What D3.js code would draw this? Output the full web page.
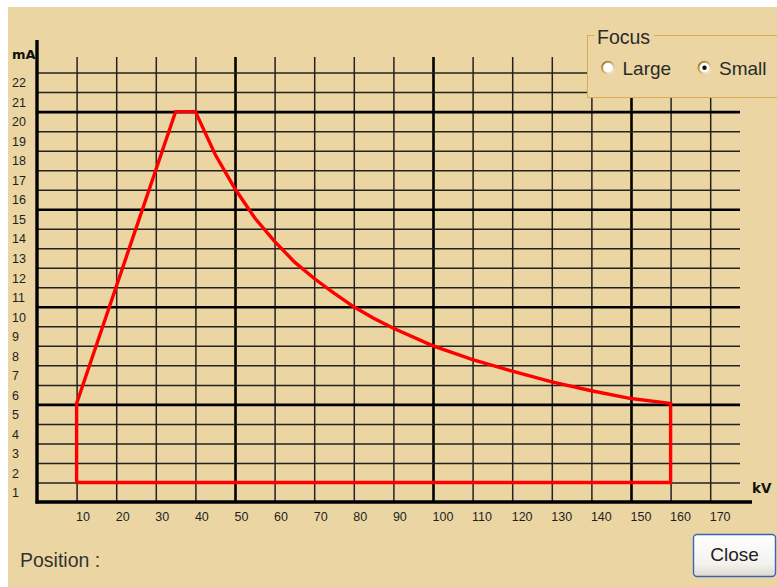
<!DOCTYPE html>
<html>
<head>
<meta charset="utf-8">
<script src="https://cdn.jsdelivr.net/npm/d3@7"></script>
<style>
  html, body { margin: 0; padding: 0; background: #ffffff; }
  svg { display: block; }
</style>
</head>
<body>
<div id="chart"></div>
<script>
// tick values of the grid
var kvTicks = [10, 20, 30, 40, 50, 60, 70, 80, 90, 100, 110, 120, 130, 140, 150, 160, 170];
var maTicks = [1, 2, 3, 4, 5, 6, 7, 8, 9, 10, 11, 12, 13, 14, 15, 16, 17, 18, 19, 20, 21, 22];
var kvMajor = [50, 100, 150];
var maMajor = [5, 10, 15, 20];

// limit curve (kV, mA)
var kvLimit = [10, 10, 35, 40, 45, 50, 55, 60, 65, 70, 75, 80, 85, 90, 100, 110, 120, 130, 140, 150, 160, 160, 10];
var maLimit = [1, 5.05, 20, 20, 17.8, 16.05, 14.55, 13.35, 12.3, 11.45, 10.7, 10, 9.42, 8.9, 8, 7.3, 6.7, 6.15, 5.7, 5.3, 5.05, 1, 1];

var W = 777, H = 587;
var bg = "#ebd6a3";
var uiFont = "'Liberation Sans', Arial, sans-serif";
var tickFont = "'Liberation Sans', Arial, sans-serif";

var svg = d3.select("#chart")
  .append("svg")
    .attr("width", W)
    .attr("height", H);

svg.append("rect").attr("width", W).attr("height", H).attr("fill", "#ffffff");
svg.append("rect").attr("x", 8).attr("y", 7).attr("width", W - 8).attr("height", H - 7).attr("fill", bg);

var x = d3.scaleLinear().domain([0, 170]).range([37, 710.2]);
var y = d3.scaleLinear().domain([0, 22]).range([502, 72.6]);

var gridRight = 740, gridTop = 57;

// vertical grid + kV labels
var xAxis = svg.append("g")
  .attr("transform", "translate(0," + y(0) + ")")
  .call(d3.axisBottom(x).tickValues(kvTicks).tickSize(-(y(0) - gridTop)).tickFormat(d3.format("d")));

xAxis.select(".domain").remove();
xAxis.selectAll(".tick line")
  .attr("stroke", function(d) { return kvMajor.indexOf(d) >= 0 ? "#000" : "#222"; })
  .attr("stroke-width", function(d) { return kvMajor.indexOf(d) >= 0 ? 2.6 : 1.5; });
xAxis.selectAll(".tick text")
  .attr("y", 19)
  .attr("dy", 0)
  .attr("x", -1)
  .attr("text-anchor", "start")
  .attr("fill", "#1e1e1e")
  .style("font-family", tickFont)
  .style("font-size", "12.5px");

// horizontal grid + mA labels
var yAxis = svg.append("g")
  .attr("transform", "translate(" + x(0) + ",0)")
  .call(d3.axisLeft(y).tickValues(maTicks).tickSize(-(gridRight - x(0))).tickFormat(d3.format("d")));

yAxis.select(".domain").remove();
yAxis.selectAll(".tick line")
  .attr("stroke", function(d) { return maMajor.indexOf(d) >= 0 ? "#000" : "#222"; })
  .attr("stroke-width", function(d) { return maMajor.indexOf(d) >= 0 ? 2.6 : 1.5; });
yAxis.selectAll(".tick text")
  .attr("x", 12 - x(0))
  .attr("y", function(d) { return y(d - 0.5) - y(d); })
  .attr("dy", "0.36em")
  .attr("text-anchor", "start")
  .attr("fill", "#1e1e1e")
  .style("font-family", tickFont)
  .style("font-size", "12.5px");

// main axes
svg.append("line")
  .attr("x1", x(0)).attr("x2", x(0))
  .attr("y1", 40).attr("y2", y(0) + 1.5)
  .attr("stroke", "#000").attr("stroke-width", 3.4);
svg.append("line")
  .attr("x1", x(0) - 1.5).attr("x2", 752)
  .attr("y1", y(0)).attr("y2", y(0))
  .attr("stroke", "#000").attr("stroke-width", 3.4);

svg.append("text")
  .attr("x", 12).attr("y", 59)
  .attr("fill", "#111")
  .style("font-family", "'DejaVu Sans', Verdana, sans-serif").style("font-size", "13px").style("font-weight", "bold")
  .text("mA");
svg.append("text")
  .attr("x", 752).attr("y", 493)
  .attr("fill", "#111")
  .style("font-family", "'DejaVu Sans', Verdana, sans-serif").style("font-size", "13.5px").style("font-weight", "bold")
  .text("kV");

// limit curve
var pts = kvLimit.map(function(k, i) { return [k, maLimit[i]]; });
var line = d3.line()
  .x(function(d) { return x(d[0]); })
  .y(function(d) { return y(d[1]); });

svg.append("path")
  .datum(pts)
  .attr("d", line)
  .attr("fill", "none")
  .attr("stroke", "#ff0000")
  .attr("stroke-width", 3.4)
  .attr("stroke-linejoin", "miter");

// Focus group box
var box = svg.append("g");
box.append("rect")
  .attr("x", 587.5).attr("y", 35.5)
  .attr("width", 220).attr("height", 62)
  .attr("fill", bg)
  .attr("stroke", "#d6ad55").attr("stroke-width", 1);
box.append("rect")
  .attr("x", 594).attr("y", 33).attr("width", 60).attr("height", 5)
  .attr("fill", bg);
box.append("text")
  .attr("x", 597).attr("y", 44)
  .attr("fill", "#2a2a2a")
  .style("font-family", uiFont).style("font-size", "19.5px")
  .text("Focus");

var defs = svg.append("defs");
var rg = defs.append("linearGradient").attr("id", "ring")
  .attr("x1", 0).attr("y1", 0).attr("x2", 1).attr("y2", 1);
rg.append("stop").attr("offset", "0%").attr("stop-color", "#a06a18");
rg.append("stop").attr("offset", "55%").attr("stop-color", "#dcb870");
rg.append("stop").attr("offset", "100%").attr("stop-color", "#fbf6ea");

var radios = [
  {label: "Large", cx: 608, on: false},
  {label: "Small", cx: 704.5, on: true}
];
radios.forEach(function(r) {
  box.append("circle")
    .attr("cx", r.cx).attr("cy", 67.8).attr("r", 6)
    .attr("fill", "#ffffff")
    .attr("stroke", "url(#ring)").attr("stroke-width", 2);
  if (r.on) {
    box.append("circle")
      .attr("cx", r.cx).attr("cy", 67.8).attr("r", 2.2)
      .attr("fill", "#111");
  }
  box.append("text")
    .attr("x", r.cx + 14.5).attr("y", 75)
    .attr("fill", "#2a2a2a")
    .style("font-family", uiFont).style("font-size", "19px")
    .text(r.label);
});

// position readout
svg.append("text")
  .attr("x", 20).attr("y", 567)
  .attr("fill", "#333")
  .style("font-family", uiFont).style("font-size", "19.5px")
  .text("Position :");

// Close button
var bgrad = defs.append("linearGradient").attr("id", "btn")
  .attr("x1", 0).attr("y1", 0).attr("x2", 0).attr("y2", 1);
bgrad.append("stop").attr("offset", "0%").attr("stop-color", "#ffffff");
bgrad.append("stop").attr("offset", "70%").attr("stop-color", "#f3f2ee");
bgrad.append("stop").attr("offset", "100%").attr("stop-color", "#dcd9cf");

svg.append("rect")
  .attr("x", 693.5).attr("y", 534.5)
  .attr("width", 82).attr("height", 42)
  .attr("rx", 3.5)
  .attr("fill", "url(#btn)")
  .attr("stroke", "#3a66b5").attr("stroke-width", 1.4);
svg.append("text")
  .attr("x", 734.5).attr("y", 561)
  .attr("text-anchor", "middle")
  .attr("fill", "#222")
  .style("font-family", uiFont).style("font-size", "19px")
  .text("Close");
</script>
</body>
</html>
